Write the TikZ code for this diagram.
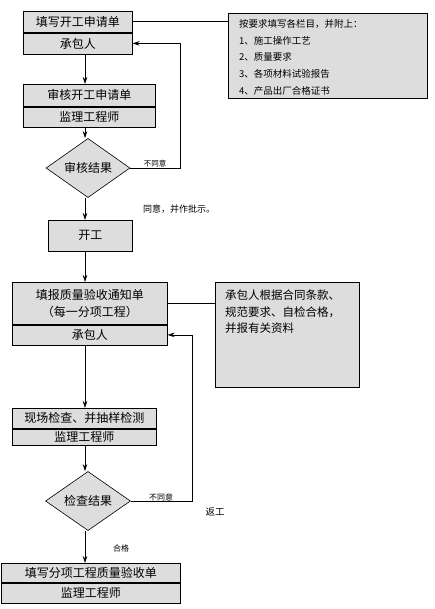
\documentclass[tikz,border=0pt]{standalone}
\usepackage{fontspec}
\newfontfamily\cjk{Noto Sans CJK SC}
\usepackage{tikz}
\usetikzlibrary{arrows.meta,positioning,shapes.geometric}
\definecolor{boxgray}{HTML}{DDDDDD}
\tikzset{
flowbox/.style={draw, fill=boxgray, line width=0.6pt, inner sep=0pt, anchor=north west, align=center, font=\cjk\fontsize{12}{17}\selectfont},
subbox/.style={draw, fill=boxgray, line width=0.6pt, inner sep=0pt, align=center, font=\cjk\fontsize{12}{17}\selectfont},
decisionbox/.style={draw, fill=boxgray, diamond, line width=0.6pt, inner sep=0pt, font=\cjk\fontsize{12}{14}\selectfont},
notebox/.style={draw, fill=boxgray, line width=0.6pt, inner sep=0pt, anchor=north west},
notetext/.style={anchor=north west, align=left, inner sep=0pt},
smalllabel/.style={inner sep=0pt, font=\cjk\fontsize{8}{10}\selectfont},
flowarrow/.style={-{Stealth[length=7pt,width=4.5pt]}, line width=0.6pt},
flowline/.style={line width=0.6pt}
}
\begin{document}
\begin{tikzpicture}[x=1pt, y=-1pt]
\useasboundingbox (0,0) rectangle (435,609);
\coordinate (axis) at (85,0);
\coordinate (loopA) at (180,0);
\coordinate (loopB) at (192,0);

% main column
\node[flowbox, minimum width=109pt, minimum height=21pt] (apply) at (23,11) {填写开工申请单};
\node[subbox, minimum width=109pt, minimum height=21pt, below=0pt of apply] (applyby) {承包人};
\node[flowbox, minimum width=132pt, minimum height=22pt] (check) at (23,84) {审核开工申请单};
\node[subbox, minimum width=132pt, minimum height=20pt, below=0pt of check] (checkby) {监理工程师};
\node[decisionbox, minimum width=84pt, minimum height=42pt] (result1) at (88,168) {审核结果};
\node[flowbox, minimum width=84pt, minimum height=31pt] (start) at (48,220) {开工};
\node[flowbox, minimum width=155pt, minimum height=42pt] (report) at (12,282) {填报质量验收通知单\\（每一分项工程）};
\node[subbox, minimum width=155pt, minimum height=20pt, below=0pt of report] (reportby) {承包人};
\node[flowbox, minimum width=144pt, minimum height=20pt] (inspect) at (12,408) {现场检查、并抽样检测};
\node[subbox, minimum width=144pt, minimum height=16pt, below=0pt of inspect] (inspectby) {监理工程师};
\node[decisionbox, minimum width=85pt, minimum height=40pt] (result2) at (88,501) {检查结果};
\node[flowbox, minimum width=179pt, minimum height=19pt] (accept) at (1,563) {填写分项工程质量验收单};
\node[subbox, minimum width=179pt, minimum height=20pt, below=0pt of accept] (acceptby) {监理工程师};

% notes
\node[notebox, minimum width=199pt, minimum height=85pt] (attach) at (228,13) {};
\node[notetext, font=\cjk\fontsize{9.5}{16.75}\selectfont] (attachtext) at ([shift={(11pt,-6pt)}]attach.north west)
  {按要求填写各栏目，并附上：\\1、施工操作工艺\\2、质量要求\\3、各项材料试验报告\\4、产品出厂合格证书};
\node[notebox, minimum width=144pt, minimum height=105pt] (contract) at (215,282) {};
\node[notetext, font=\cjk\fontsize{11.5}{16.5}\selectfont] (contracttext) at ([shift={(10pt,-8pt)}]contract.north west)
  {承包人根据合同条款、\\规范要求、自检合格，\\并报有关资料};

% labels
\node[smalllabel, font=\cjk\fontsize{7.5}{9}\selectfont] (reject1) at (155,164) {不同意};
\node[smalllabel, font=\cjk\fontsize{9}{11}\selectfont] (agree) at (179,209) {同意，并作批示。};
\node[smalllabel] (reject2) at (161,497) {不同意};
\node[smalllabel, font=\cjk\fontsize{9.5}{11}\selectfont] (rework) at (215,512) {返工};
\node[smalllabel] (pass) at (121,548) {合格};

% connectors
\draw[flowarrow] (applyby.south -| axis) -- (check.north -| axis);
\draw[flowarrow] (checkby.south -| axis) -- (result1.north -| axis);
\draw[flowarrow] (result1.south -| axis) -- (start.north -| axis);
\draw[flowarrow] (start.south -| axis) -- (report.north -| axis);
\draw[flowarrow] (reportby.south -| axis) -- (inspect.north -| axis);
\draw[flowarrow] (inspectby.south -| axis) -- (result2.north -| axis);
\draw[flowarrow] (result2.south -| axis) -- (accept.north -| axis);
\draw[flowarrow] (result1.east) -| (loopA |- applyby.east) -- (applyby.east);
\draw[flowarrow] (result2.east) -| (loopB |- reportby.east) -- (reportby.east);
\draw[flowline] (apply.east) -- (apply.east -| attach.west);
\draw[flowline] (report.east) -- (report.east -| contract.west);
\end{tikzpicture}
\end{document}
